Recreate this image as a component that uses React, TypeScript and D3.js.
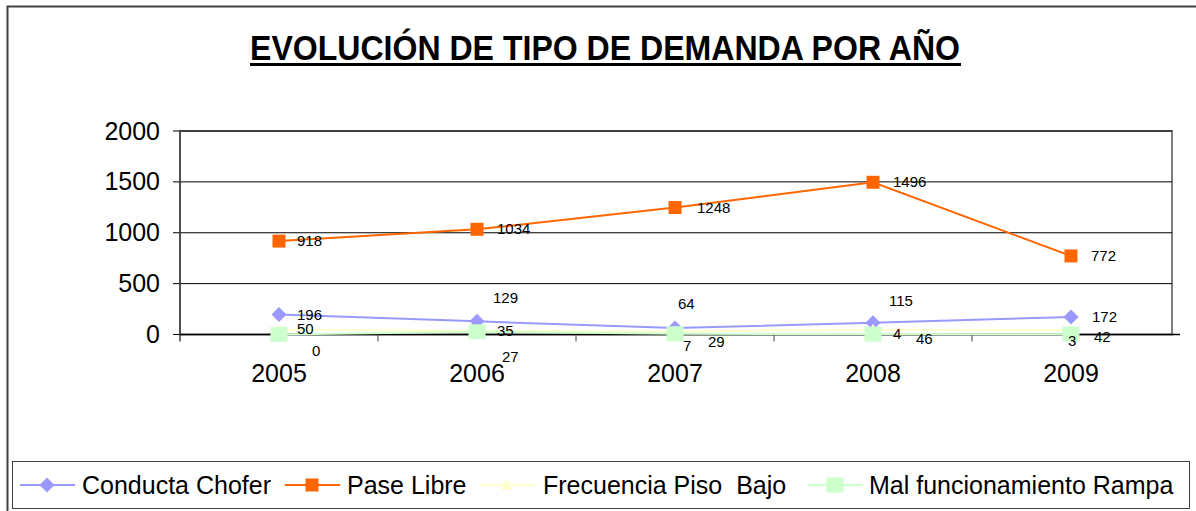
import React from "react";
import * as d3 from "d3";

const years = ["2005", "2006", "2007", "2008", "2009"];
const conductaChofer = [196, 129, 64, 115, 172];
const paseLibre = [918, 1034, 1248, 1496, 772];
const frecuenciaPisoBajo = [50, 35, 29, 46, 42];
const malFuncionamientoRampa = [0, 27, 7, 4, 3];
const yTicks = [0, 500, 1000, 1500, 2000];
const seriesNames = ["Conducta Chofer", "Pase Libre", "Frecuencia Piso  Bajo", "Mal funcionamiento Rampa"];

// label offsets (dx, dy) relative to each point, mimicking the original placement
const labelOffsets = [
  [[18, 0], [16, -23], [3, -24], [16, -22], [21, 0]],
  [[18, 0], [20, 0], [22, 0], [20, 0], [20, 0]],
  [[18, 0], [20, 0], [33, 10], [43, 9], [23, 7]],
  [[33, 16], [25, 25], [8, 12], [20, 0], [-3, 7]],
];

const W = 1196;
const H = 511;
const plot = { left: 180, top: 131, right: 1170, bottom: 334.5 };

export default function App() {
  const x = d3.scaleBand<string>().domain(years).range([plot.left, plot.right]);
  const y = d3.scaleLinear().domain([0, 2000]).range([plot.bottom, plot.top]);
  const cx = (yr: string) => (x(yr) as number) + x.bandwidth() / 2;

  const series = [
    { name: seriesNames[0], values: conductaChofer, color: "#9999FF", marker: "diamond" },
    { name: seriesNames[1], values: paseLibre, color: "#FF6600", marker: "square" },
    { name: seriesNames[2], values: frecuenciaPisoBajo, color: "#FFFFCC", marker: "triangle" },
    { name: seriesNames[3], values: malFuncionamientoRampa, color: "#CCFFCC", marker: "bigsquare" },
  ];

  const line = d3
    .line<number>()
    .x((_, i) => cx(years[i]))
    .y((v) => y(v));

  const marker = (kind: string, px: number, py: number, color: string, key: string) => {
    if (kind === "diamond") {
      const r = 7.5;
      return <path key={key} d={`M${px},${py - r}L${px + r},${py}L${px},${py + r}L${px - r},${py}Z`} fill={color} />;
    }
    if (kind === "square") {
      return <rect key={key} x={px - 6.5} y={py - 6.5} width={13} height={13} fill={color} />;
    }
    if (kind === "triangle") {
      return <path key={key} d={`M${px},${py - 6}L${px + 6},${py + 5}L${px - 6},${py + 5}Z`} fill={color} />;
    }
    return <rect key={key} x={px - 8.5} y={py - 7.5} width={17} height={15} fill={color} />;
  };

  const font = "'Liberation Sans', Arial, sans-serif";

  // legend layout
  const legendItems = [
    { lineX: 20, textX: 82 },
    { lineX: 285, textX: 347 },
    { lineX: 480, textX: 543 },
    { lineX: 808, textX: 869 },
  ];
  const legendY = 485;

  const xTickPositions = years.slice(1).map((yr) => x(yr) as number);

  return (
    <svg
      width={W}
      height={H}
      style={{ position: "absolute", left: 0, top: 0, background: "#fff" }}
      fontFamily={font}
    >
      <rect x={0} y={0} width={W} height={H} fill="#fff" />
      {/* outer frame */}
      <rect x={7.5} y={6.5} width={1200} height={520} fill="none" stroke="#404040" strokeWidth={2} />

      {/* title */}
      <text
        x={250}
        y={60}
        fontSize={35}
        fontWeight="bold"
        fontFamily="'Liberation Sans Narrow', 'Liberation Sans', Arial, sans-serif"
        textLength={710}
        lengthAdjust="spacingAndGlyphs"
        fill="#000"
      >
        EVOLUCIÓN DE TIPO DE DEMANDA POR AÑO
      </text>
      <rect x={250} y={63} width={711} height={3} fill="#000" />

      {/* plot area border */}
      <rect
        x={plot.left}
        y={plot.top}
        width={plot.right + 2 - plot.left}
        height={plot.bottom - plot.top}
        fill="#fff"
        stroke="#808080"
        strokeWidth={2}
      />

      {/* gridlines */}
      {yTicks.map((t) => (
        <g key={`g${t}`}>
          <line x1={plot.left} x2={plot.right + 2} y1={y(t)} y2={y(t)} stroke="#000" strokeWidth={1} />
          <line x1={plot.left - 7} x2={plot.left} y1={y(t)} y2={y(t)} stroke="#000" strokeWidth={1} />
          <text x={160} y={y(t) + 8.5} fontSize={25} textAnchor="end" fill="#000">
            {t}
          </text>
        </g>
      ))}

      {/* y axis */}
      <line x1={plot.left} x2={plot.left} y1={plot.top} y2={plot.bottom + 7} stroke="#404040" strokeWidth={1.5} />
      {/* x axis */}
      <line x1={plot.left} x2={plot.right + 10} y1={plot.bottom} y2={plot.bottom} stroke="#000" strokeWidth={1.5} />
      {xTickPositions.map((tx, i) => (
        <line key={`xt${i}`} x1={tx} x2={tx} y1={plot.bottom} y2={plot.bottom + 7} stroke="#404040" strokeWidth={1} />
      ))}
      {years.map((yr) => (
        <text key={`xl${yr}`} x={cx(yr)} y={382} fontSize={25} textAnchor="middle" fill="#000">
          {yr}
        </text>
      ))}

      {/* series */}
      {series.map((s, si) => (
        <g key={`s${si}`}>
          <path d={line(s.values) as string} fill="none" stroke={s.color} strokeWidth={2} />
          {s.values.map((v, i) => marker(s.marker, cx(years[i]), y(v), s.color, `m${si}-${i}`))}
        </g>
      ))}

      {/* data labels */}
      {series.map((s, si) =>
        s.values.map((v, i) => (
          <text
            key={`l${si}-${i}`}
            x={cx(years[i]) + labelOffsets[si][i][0]}
            y={y(v) + labelOffsets[si][i][1] + 5}
            fontSize={15}
            fill="#000"
          >
            {v}
          </text>
        ))
      )}

      {/* legend */}
      <rect x={12.5} y={461.5} width={1177} height={47} fill="#fff" stroke="#404040" strokeWidth={1} />
      {series.map((s, si) => {
        const it = legendItems[si];
        const mx = it.lineX + 27;
        return (
          <g key={`lg${si}`}>
            <line x1={it.lineX} x2={it.lineX + 55} y1={legendY} y2={legendY} stroke={s.color} strokeWidth={2} />
            {marker(s.marker, mx, legendY, s.color, `lm${si}`)}
            <text x={it.textX} y={legendY + 9} fontSize={25} fill="#000" style={{ whiteSpace: "pre" }}>
              {s.name}
            </text>
          </g>
        );
      })}
    </svg>
  );
}
